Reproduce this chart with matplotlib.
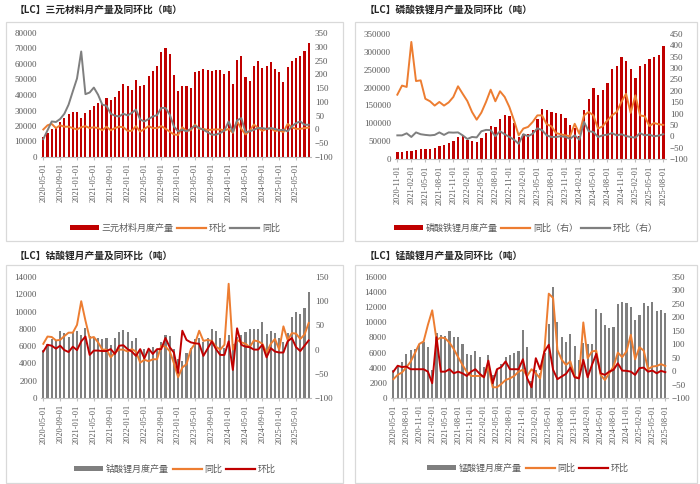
import matplotlib
matplotlib.use("Agg")
import matplotlib.pyplot as plt
import pandas as pd
from matplotlib.lines import Line2D
from matplotlib.patches import Patch, Rectangle

plt.rcParams["font.family"] = ["Noto Sans CJK SC", "DejaVu Sans"]

RED = "#C00000"
ORANGE = "#ED7D31"
GRAY = "#7F7F7F"
TICK = "#595959"
NUM_FONT = "Liberation Serif"

# ------------------------------------------------------------------ data
months_a = pd.date_range("2020-05-01", "2025-08-01", freq="MS")   # 64 months
months_b = pd.date_range("2020-11-01", "2025-08-01", freq="MS")   # 58 months

# 三元材料
ncm_output = [12700, 15500, 18300, 19400, 22800, 25200, 28000, 29000,
              29300, 25400, 28600, 30000, 33100, 35000, 34400, 38300, 36800, 38700, 42800, 46900,
              46000, 43400, 49700, 45600, 46200, 52300, 55300, 58500, 67500, 70100, 66200, 52900,
              42800, 45600, 46000, 44700, 54600, 55500, 57000, 55900, 55300, 55900, 55900, 53300,
              55300, 47100, 62800, 64900, 51800, 49200, 58500, 61700, 57200, 58500, 61100, 57000,
              54600, 48200, 58100, 62200, 64100, 64900, 68600, 73500]
ncm_mom = [0, 15, 20, 5, 15, 10, 10, 5,
           0, 8, 12, 5, 8, 5, -3, 10, -3, 5, 10, 8,
           -5, -5, 12, -8, 2, 12, 5, 5, 12, 3, -8, -18,
           -20, 8, -5, -3, 18, 2, 2, -2, -1, 0, 0, -4,
           2, -12, 30, 2, -18, -5, 18, 5, -5, 2, 4, -6,
           -3, -10, 20, 8, 2, 2, 5, 7]
ncm_yoy = [-35, -3, 29, 27, 38, 57, 90, 138,
           185, 283, 128, 134, 152, 126, 90, 86, 57, 50, 47, 57,
           51, 60, 72, 36, 29, 38, 47, 52, 78, 78, 54, 11,
           -7, -1, -7, 2, 14, 5, -1, -10, -19, -19, -13, -4,
           29, -10, 33, 41, -10, -7, -1, 5, 5, 2, 5, 2,
           -3, -1, -7, 11, 23, 29, 17, 17]

# 磷酸铁锂
lfp_output = [19600, 19600, 22400, 22400, 25200, 27000, 28000, 29000, 30000, 35400,
              38200, 45700, 51300, 61600, 66200, 54100, 49400, 46600, 58800, 72800,
              93300, 90500, 112000, 123100, 120300, 100700, 61600, 70900, 70000, 82100,
              111000, 140900, 138000, 130600, 127800, 126900, 113800, 95100, 86800, 65300,
              137100, 167000, 197800, 180000, 194000, 211800, 251900, 260300, 285400, 275200,
              251000, 227600, 259300, 265000, 280800, 285400, 290100, 316300]
lfp_yoy = [183, 223, 217, 415, 243, 246, 165, 154, 135, 151,
           135, 149, 173, 220, 187, 155, 107, 73, 104, 151,
           205, 154, 198, 173, 129, 70, 4, 34, 41, 63,
           92, 92, 53, 44, 14, 9, 4, 0, 55, 11,
           92, 107, 92, 34, 44, 70, 92, 107, 151, 187,
           103, 180, 92, 88, 45, 58, 53, 50]
lfp_mom = [4, 4, 13, -3, 17, 9, 6, 4, 6, 17,
           6, 17, 16, 17, 4, -12, -3, -5, 22, 28,
           27, 0, 22, 9, -3, -15, -33, 9, 0, 11,
           35, 27, 4, -3, -3, 0, -3, -11, 4, -15,
           63, 22, 19, -3, 4, 7, 14, 4, 9, 1,
           -3, -6, 14, 4, 7, 0, 3, 9]

# 钴酸锂
lco_output = [5500, 6300, 6800, 6700, 7700, 7500, 7100, 7600,
              7800, 7300, 8100, 7200, 7100, 6900, 6800, 7000, 6100, 6900, 7600, 7900,
              7600, 6600, 7000, 5600, 5700, 5400, 5900, 5500, 6500, 7300, 7200, 5700,
              4500, 4300, 5200, 5800, 6800, 7000, 6500, 7000, 8000, 7800, 6900, 5800,
              7300, 6300, 7100, 7300, 7600, 8000, 8000, 8000, 8800, 7400, 7800, 7500,
              6900, 6500, 7500, 9400, 10000, 9700, 10400, 12300]
lco_yoy = [12, 27, 26, 19, 20, 28, 35, 35,
           51, 100, 60, 24, 26, 15, 0, 0, -16, -6, 0, 0,
           -4, 1, -4, -27, -21, -24, -20, -20, 8, 6, -3, -28,
           -57, -37, -30, 0, 12, 39, 18, 20, 18, 6, 0, 10,
           136, 0, 20, 15, 12, 5, 19, 17, 12, -6, 12, 22,
           0, 48, 20, 34, 33, 22, 31, 55]
lco_mom = [-4, 10, 8, 2, 8, -1, -5, 6,
           -1, 17, 27, -11, -2, -2, -3, -3, 1, -9, 8, 9,
           1, -4, -13, 1, -18, 2, -9, 1, 1, 24, 5, -6,
           -48, 39, 20, 15, 13, 12, -13, 2, 17, 1, -11, -11,
           17, -42, 44, 10, 6, 5, 0, 0, 10, -16, 3, -4,
           -6, -6, 17, 24, 5, -3, 8, 19]

# 锰酸锂
lmo_output = [3700, 4150, 4800, 5850, 6350, 6500, 7150, 7350,
              6750, 3700, 8550, 8350, 8200, 8800, 8050, 8050, 7100, 5800, 5700, 6150,
              5400, 4100, 5700, 3000, 3800, 4500, 5400, 5700, 5900, 6200, 8950, 6800,
              2300, 3700, 3300, 6000, 9800, 14650, 10050, 8050, 7350, 8450, 6900, 5050,
              7300, 7200, 7200, 11750, 11200, 9700, 9250, 9450, 12400, 12650, 12550, 12050,
              10250, 11000, 12550, 12200, 12700, 11550, 11650, 11250]
lmo_yoy = [-30, -14, -5, 14, 35, 67, 101, 110,
           172, 226, 116, 125, 122, 106, 82, 52, 23, -2, -18, -18,
           -18, -20, 17, -60, -60, -48, -33, -27, -18, -2, 5, -18,
           7, -8, -27, 79, 288, 272, 79, 42, 23, 36, -20, -27,
           181, 48, 73, 76, -14, -33, -8, 17, 69, 52, 73, 135,
           44, 89, 76, 7, 17, 19, 26, 19]
lmo_mom = [-2, 20, 15, 17, 7, 7, 7, 7,
           -2, -45, 126, -2, -2, 7, -8, -2, -8, -18, -2, 7,
           -10, -23, 39, -45, 7, 15, 36, 7, 7, 7, 44, -27,
           -60, 48, 7, 73, 98, 5, -30, -20, -10, 13, -23, -27,
           42, -23, 23, 64, -8, -14, -2, 5, 29, 2, 1, -2,
           -14, 11, 13, -2, 2, -8, 1, -4]


# ---------------------------------------------------------------- drawing
def panel(fig, rect, months, bars, bar_color, bar_label, lines, left_lim, left_step,
          right_lim, right_step, tick_every, legend_xy):
    ax = fig.add_axes(rect)
    x = range(len(months))
    ax.bar(x, bars, width=0.5, color=bar_color, zorder=1)
    ax.set_xlim(-0.5, len(months) - 0.5)
    ax.set_ylim(*left_lim)
    ax.set_yticks(range(left_lim[0], left_lim[1] + 1, left_step))
    pos = list(range(0, len(months), tick_every))
    ax.set_xticks(pos)
    ax.set_xticklabels([months[i].strftime("%Y-%m-%d") for i in pos], rotation=90,
                       fontsize=6, color=TICK, fontfamily=NUM_FONT)
    ax.tick_params(axis="x", length=2.5, color="#BFBFBF", pad=2)
    ax.tick_params(axis="y", length=0, labelsize=6.5, labelcolor=TICK, pad=3)
    for lab in ax.get_yticklabels():
        lab.set_fontfamily(NUM_FONT)
    for s in ("top", "left", "right"):
        ax.spines[s].set_visible(False)
    ax.spines["bottom"].set_color("#BFBFBF")
    ax.spines["bottom"].set_linewidth(0.8)

    ax2 = ax.twinx()
    handles = [Patch(facecolor=bar_color, label=bar_label)]
    for values, color, label in lines:
        ax2.plot(x, values, color=color, lw=1.4)
        handles.append(Line2D([], [], color=color, lw=1.6, label=label))
    ax2.set_ylim(*right_lim)
    ax2.set_yticks(range(right_lim[0], right_lim[1] + 1, right_step))
    ax2.tick_params(axis="y", length=0, labelsize=6.5, labelcolor=TICK, pad=3)
    for lab in ax2.get_yticklabels():
        lab.set_fontfamily(NUM_FONT)
    for s in ax2.spines.values():
        s.set_visible(False)

    fig.legend(handles=handles, loc="center", bbox_to_anchor=legend_xy, ncol=3,
               frameon=False, fontsize=6.5, handlelength=3.2, handleheight=0.6,
               columnspacing=0.4, handletextpad=0.3, labelcolor=TICK)


W, H = 700, 484
fig = plt.figure(figsize=(W / 100, H / 100), dpi=100)


def fx(px):
    return px / W


def fy(py):
    return 1 - py / H


# panel boxes and titles
for (x0, y0, x1, y1) in [(6, 22, 343, 241), (355, 22, 697, 241),
                         (6, 265, 343, 483), (355, 265, 697, 483)]:
    fig.patches.append(Rectangle((fx(x0), fy(y1)), fx(x1 - x0), (y1 - y0) / H,
                                 transform=fig.transFigure, fill=False,
                                 edgecolor="#D9D9D9", lw=0.9))

titles = [(15, 10, "【LC】三元材料月产量及同环比（吨）"),
          (365, 10, "【LC】磷酸铁锂月产量及同环比（吨）"),
          (15, 256, "【LC】钴酸锂月产量及同环比（吨）"),
          (365, 256, "【LC】锰酸锂月产量及同环比（吨）")]
for tx, ty, t in titles:
    fig.text(fx(tx), fy(ty), t, fontsize=7, fontweight="bold", va="center", ha="left",
             color="#262626")

panel(fig, [fx(41.2), fy(157), fx(310.8 - 41.2), (157 - 33) / H], months_a,
      ncm_output, RED, "三元材料月度产量",
      [(ncm_mom, ORANGE, "环比"), (ncm_yoy, GRAY, "同比")],
      (0, 80000), 10000, (-100, 350), 50, 4, (fx(175), fy(228)))

panel(fig, [fx(395), fy(159), fx(665.7 - 395), (159 - 34) / H], months_b,
      lfp_output, RED, "磷酸铁锂月度产量",
      [(lfp_yoy, ORANGE, "同比（右）"), (lfp_mom, GRAY, "环比（右）")],
      (0, 350000), 50000, (-100, 450), 50, 3, (fx(526), fy(228)))

panel(fig, [fx(41.2), fy(398), fx(310.8 - 41.2), (398 - 277) / H], months_a,
      lco_output, GRAY, "钴酸锂月度产量",
      [(lco_yoy, ORANGE, "同比"), (lco_mom, RED, "环比")],
      (0, 14000), 2000, (-100, 150), 50, 4, (fx(175), fy(469)))

panel(fig, [fx(391.2), fy(398), fx(667.5 - 391.2), (398 - 277) / H], months_a,
      lmo_output, GRAY, "锰酸锂月度产量",
      [(lmo_yoy, ORANGE, "同比"), (lmo_mom, RED, "环比")],
      (0, 16000), 2000, (-100, 350), 50, 3, (fx(528), fy(468)))

fig.savefig("out.png", dpi=100)
